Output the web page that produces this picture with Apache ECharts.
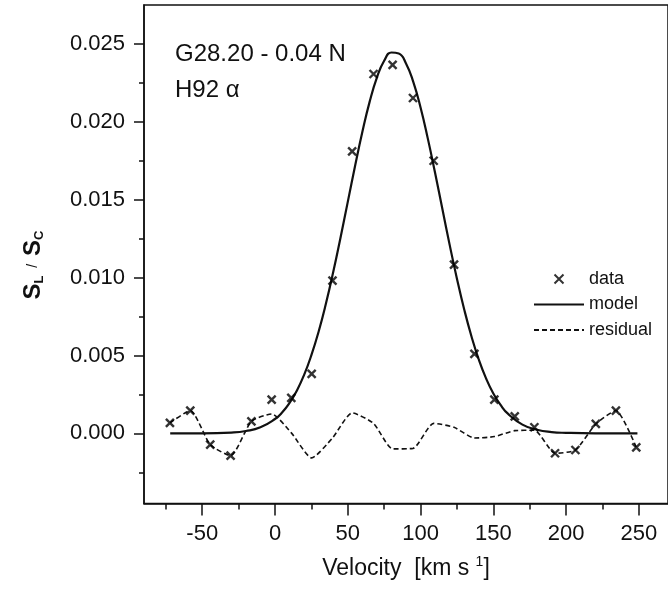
<!DOCTYPE html>
<html>
<head>
<meta charset="utf-8">
<title>G28.20 - 0.04 N  H92 alpha</title>
<script src="https://cdn.jsdelivr.net/npm/echarts@6/dist/echarts.min.js"></script>
<style>
  html, body { margin: 0; padding: 0; background: #fff; }
  #container { width: 668px; height: 601px; }
</style>
</head>
<body>
<div id="container"></div>
<script>
// measured points (crosses)
var velocity = [-72.2, -58.2, -44.5, -30.5, -16.2, -2.3, 11.2, 25.2, 39.5, 53, 67.7, 80.8,
    94.8, 109, 123, 137, 150.7, 164.7, 178.2, 192.4, 206.4, 220.4, 234.2, 248.2];
var dataVals = [0.00067, 0.00146, -0.00073, -0.00143, 0.00077, 0.00216, 0.00227, 0.00381, 0.0098, 0.0181, 0.02307, 0.02365,
    0.02153, 0.0175, 0.01083, 0.0051, 0.00216, 0.00109, 0.00039, -0.00128, -0.00107, 0.0006, 0.00146, -0.0009];
// residual (dashed), same velocities
var residualVals = [0.00067, 0.00146, -0.00073, -0.00143, 0.00077, 0.00124, 0.00003, -0.00158, -0.0003, 0.00131, 0.00064, -0.001,
    -0.00097, 0.00064, 0.00039, -0.0003, -0.00021, 0.00017, 0.0002, -0.00128, -0.00107, 0.0006, 0.00146, -0.0009];
// model curve
var modelV = [-72, -50, -30, -20, -10, 0, 5, 10, 15, 20, 25, 30, 35, 40, 45, 50, 55, 60, 65, 70, 75, 80,
    85, 90, 95, 100, 105, 110, 115, 120, 125, 130, 135, 140, 145, 150, 155, 160, 170, 180, 190, 200, 220, 249];
var modelVals = [0, 0, 0.00005, 0.00015, 0.00039, 0.00092, 0.00135, 0.00195, 0.00274, 0.00375, 0.00502, 0.00654,
    0.00833, 0.01035, 0.01256, 0.01486, 0.01716, 0.01934, 0.02128, 0.02284, 0.02392, 0.02445,
    0.02439, 0.02375, 0.02256, 0.02092, 0.01892, 0.01671, 0.0144, 0.0121, 0.00993, 0.00795,
    0.00622, 0.00474, 0.00353, 0.00256, 0.00182, 0.00126, 0.00056, 0.00023, 0.00008, 0.00003, 0, 0];

// axis ticks
var xMajor = [-50, 0, 50, 100, 150, 200, 250];
var xMinor = [-75, -25, 25, 75, 125, 175, 225];
var yMajor = [0, 0.005, 0.01, 0.015, 0.02, 0.025];
var yMinor = [-0.0025, 0.0025, 0.0075, 0.0125, 0.0175, 0.0225];

function pairs(xs, ys) {
    var out = [];
    for (var i = 0; i < xs.length; i++) {
        out.push([xs[i], ys[i]]);
    }
    return out;
}

var ink = '#111';
var font = '"Liberation Sans", Arial, Helvetica, sans-serif';
var hidden = { color: 'rgba(0,0,0,0)', borderColor: 'rgba(0,0,0,0)', borderWidth: 0 };

var myChart = echarts.init(document.getElementById('container'));

var option = {
    backgroundColor: '#fff',
    animation: false,
    textStyle: { fontFamily: font, color: ink },
    grid: {
        left: 144, top: 5, width: 531.8, height: 498.4,
        show: true, borderColor: ink, borderWidth: 1.5, backgroundColor: 'transparent'
    },
    legend: {
        orient: 'vertical',
        left: 533, top: 270, padding: 0,
        itemWidth: 50, itemHeight: 9, itemGap: 7.5,
        textStyle: { fontFamily: font, fontSize: 18, color: ink, lineHeight: 18 },
        data: [
            { name: 'data' },
            { name: 'model', itemStyle: hidden },
            { name: 'residual', itemStyle: hidden }
        ]
    },
    xAxis: [{
        type: 'value', min: -90, max: 270,
        name: '{n|Velocity  [km s }{sup|1}{n|]}',
        nameLocation: 'middle', nameGap: 52,
        nameTextStyle: {
            rich: {
                n: { fontFamily: font, fontSize: 23, color: ink },
                sup: { fontFamily: font, fontSize: 14, color: ink, padding: [0, 0, 12, 0] }
            }
        },
        axisLine: { show: true, onZero: false, lineStyle: { color: ink, width: 1.5 } },
        axisTick: { show: true, length: 12, customValues: xMajor, lineStyle: { color: ink, width: 1.5 } },
        axisLabel: { customValues: xMajor, margin: 20, fontSize: 22, color: ink, fontFamily: font },
        splitLine: { show: false }
    }, {
        type: 'value', min: -90, max: 270, position: 'bottom',
        axisLine: { show: false, onZero: false },
        axisTick: { show: true, length: 6, customValues: xMinor, lineStyle: { color: ink, width: 1.5 } },
        axisLabel: { show: false },
        splitLine: { show: false }
    }],
    yAxis: [{
        type: 'value', min: -0.0045, max: 0.0275,
        axisLine: { show: true, onZero: false, lineStyle: { color: ink, width: 1.5 } },
        axisTick: { show: true, length: 10, customValues: yMajor, lineStyle: { color: ink, width: 1.5 } },
        axisLabel: {
            customValues: yMajor, margin: 19, fontSize: 22, color: ink, fontFamily: font,
            formatter: function (v) { return v.toFixed(3); }
        },
        splitLine: { show: false }
    }, {
        type: 'value', min: -0.0045, max: 0.0275, position: 'left',
        axisLine: { show: false, onZero: false },
        axisTick: { show: true, length: 5, customValues: yMinor, lineStyle: { color: ink, width: 1.5 } },
        axisLabel: { show: false },
        splitLine: { show: false }
    }],
    graphic: [{
        type: 'text', x: 175, y: 54,
        style: { text: 'G28.20 - 0.04 N', font: '24px ' + font, fill: ink, align: 'left', verticalAlign: 'middle' }
    }, {
        type: 'text', x: 175, y: 90,
        style: { text: 'H92 α', font: '24px ' + font, fill: ink, align: 'left', verticalAlign: 'middle' }
    }, {
        // y axis title S_L / S_C
        type: 'text', x: 33, y: 265, rotation: Math.PI / 2,
        style: {
            text: '{b|S}{s|L}{n|  /  }{b|S}{s|C}',
            align: 'center', verticalAlign: 'middle',
            rich: {
                b: { fontFamily: font, fontSize: 24, fontWeight: 'bold', fill: ink },
                s: { fontFamily: font, fontSize: 13, fontWeight: 'bold', fill: ink, padding: [12, 0, 0, 0] },
                n: { fontFamily: font, fontSize: 14, fill: ink }
            }
        }
    }],
    series: [{
        name: 'model',
        type: 'line',
        data: pairs(modelV, modelVals),
        smooth: true,
        symbol: 'none',
        lineStyle: { color: ink, width: 2.2 },
        itemStyle: { color: ink },
        z: 3
    }, {
        name: 'residual',
        type: 'line',
        data: pairs(velocity, residualVals),
        smooth: 0.2,
        symbol: 'none',
        lineStyle: { color: ink, width: 1.6, type: [5, 3] },
        itemStyle: { color: ink },
        z: 2
    }, {
        name: 'data',
        type: 'scatter',
        data: pairs(velocity, dataVals),
        symbol: 'path://M0,0L10,10M10,0L0,10',
        symbolSize: 8,
        symbolKeepAspect: true,
        itemStyle: { color: 'rgba(0,0,0,0)', borderColor: '#000', borderWidth: 2.4 },
        z: 4
    }]
};

myChart.setOption(option);
</script>
</body>
</html>
